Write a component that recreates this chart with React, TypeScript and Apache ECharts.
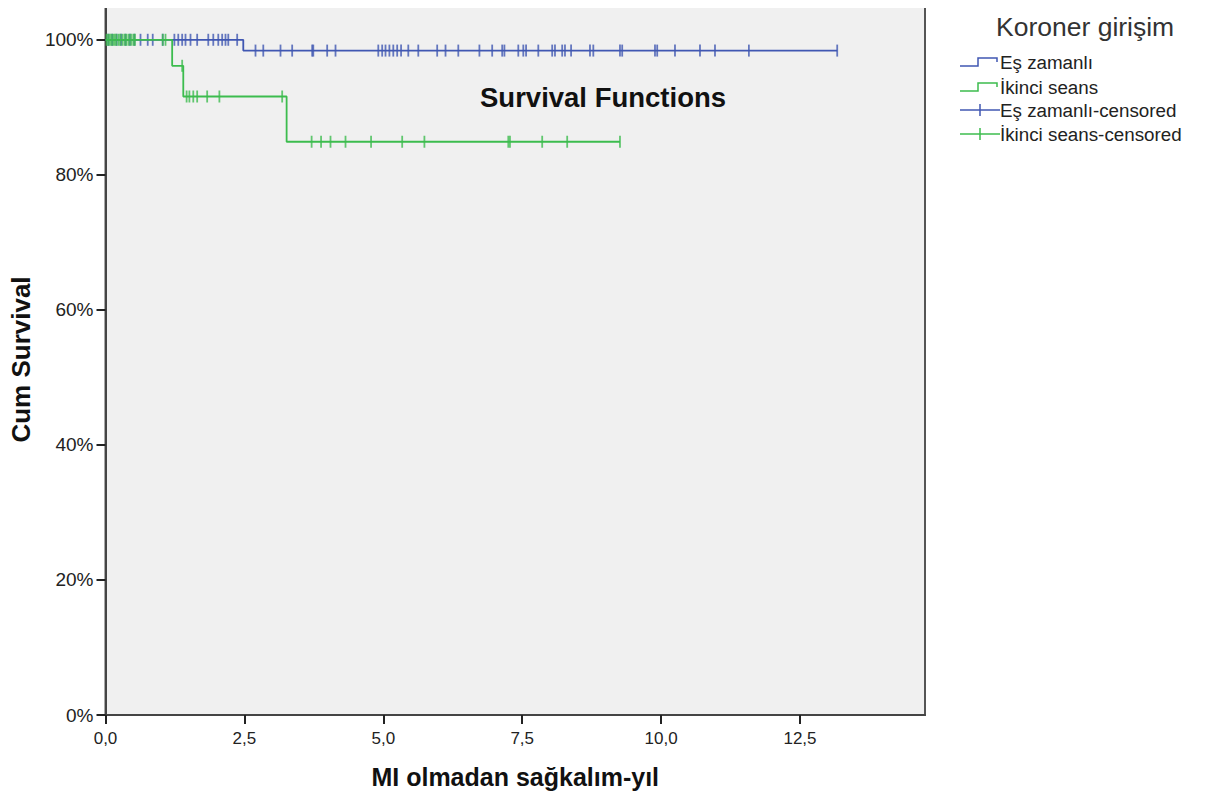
import React, { useEffect, useRef } from "react";
import * as echarts from "echarts";

// Kaplan-Meier step points [years, cum survival %]
const esZamanliSteps: [number, number][] = [
  [0, 100],
  [2.48, 98.4],
  [13.17, 98.4],
];
const ikinciSeansSteps: [number, number][] = [
  [0, 100],
  [1.2, 96.15],
  [1.4, 91.6],
  [3.26, 84.9],
  [9.26, 84.9],
];

// censored times
const esZamanliCensor100 = [
  0.05, 0.12, 0.2, 0.28, 0.36, 0.44, 0.52, 0.63, 0.76, 0.85, 1.03, 1.24, 1.31,
  1.38, 1.44, 1.53, 1.65, 1.85, 1.94, 2.03, 2.1, 2.16, 2.21, 2.37,
];
const esZamanliCensorLow = [
  2.7, 2.84, 3.15, 3.36, 3.72, 3.74, 3.99, 4.14, 4.91, 4.98, 5.04, 5.11, 5.18,
  5.25, 5.32, 5.45, 5.63, 5.97, 6.12, 6.35, 6.73, 6.96, 7.14, 7.18, 7.43, 7.52,
  7.57, 7.79, 8.04, 8.09, 8.22, 8.27, 8.38, 8.72, 8.78, 9.26, 9.3, 9.89, 9.93,
  10.25, 10.7, 10.97, 11.58, 13.17,
];
const ikinciCensor100 = [
  0.02, 0.05, 0.08, 0.11, 0.14, 0.17, 0.2, 0.24, 0.27, 0.31, 0.35, 0.38, 0.42,
  0.46, 0.5, 0.53, 1.03, 1.08,
];
const ikinciCensor96 = [1.38];
const ikinciCensor91 = [1.46, 1.51, 1.58, 1.65, 1.83, 2.05, 3.18];
const ikinciCensor85 = [
  3.71, 3.88, 4.05, 4.32, 4.78, 5.34, 5.74, 7.25, 7.28, 7.86, 8.31, 9.26,
];

const xTicks = [0, 2.5, 5, 7.5, 10, 12.5];
const yTicks = [0, 20, 40, 60, 80, 100];

const legendTitle = "Koroner girişim";
const legendItems = [
  "Eş zamanlı",
  "İkinci seans",
  "Eş zamanlı-censored",
  "İkinci seans-censored",
];

const BLUE = "#4057b2";
const GREEN = "#3cbc4e";
const FONT = "'Liberation Sans', Arial, sans-serif";

export default function App() {
  const ref = useRef<HTMLDivElement>(null);
  useEffect(() => {
    if (!ref.current) return;
    const chart = echarts.init(ref.current, null, { renderer: "svg" });

    const pts = (xs: number[], y: number) => xs.map((x) => [x, y]);
    const censorBlue = [
      ...pts(esZamanliCensor100, 100),
      ...pts(esZamanliCensorLow, esZamanliSteps[1][1]),
    ];
    const censorGreen = [
      ...pts(ikinciCensor100, 100),
      ...pts(ikinciCensor96, ikinciSeansSteps[1][1]),
      ...pts(ikinciCensor91, ikinciSeansSteps[2][1]),
      ...pts(ikinciCensor85, ikinciSeansSteps[3][1]),
    ];

    const lx = 960;
    const rows = [62, 87, 110, 134];
    const legendGraphics: any[] = [
      {
        type: "text",
        x: 996,
        y: 27,
        style: {
          text: legendTitle,
          font: `26.5px ${FONT}`,
          fill: "#333",
          verticalAlign: "middle",
        },
      },
    ];
    const colors = [BLUE, GREEN, BLUE, GREEN];
    rows.forEach((y, i) => {
      if (i < 2) {
        legendGraphics.push({
          type: "polyline",
          shape: {
            points: [
              [lx, y + 4],
              [lx + 18, y + 4],
              [lx + 18, y - 4],
              [lx + 37, y - 4],
              [lx + 37, y],
            ],
          },
          style: { stroke: colors[i], lineWidth: 1.5, fill: "none" },
        });
      } else {
        legendGraphics.push({
          type: "line",
          shape: { x1: lx, y1: y, x2: lx + 40, y2: y },
          style: { stroke: colors[i], lineWidth: 1.5 },
        });
        legendGraphics.push({
          type: "line",
          shape: { x1: lx + 20, y1: y - 6, x2: lx + 20, y2: y + 6 },
          style: { stroke: colors[i], lineWidth: 1.5 },
        });
      }
      legendGraphics.push({
        type: "text",
        x: 1000,
        y: y,
        style: {
          text: legendItems[i],
          font: `18.8px ${FONT}`,
          fill: "#222",
          verticalAlign: "middle",
        },
      });
    });

    chart.setOption({
      animation: false,
      backgroundColor: "#fff",
      grid: {
        left: 105,
        right: 283,
        top: 4,
        bottom: 88,
        show: true,
        backgroundColor: "#f0f0f0",
        borderColor: "#555",
        borderWidth: 2,
      },
      xAxis: {
        type: "value",
        min: 0,
        max: 14.75,
        interval: 2.5,
        name: "MI olmadan sağkalım-yıl",
        nameLocation: "middle",
        nameGap: 49,
        nameTextStyle: {
          fontFamily: FONT,
          fontSize: 25,
          fontWeight: "bold",
          color: "#111",
        },
        splitLine: { show: false },
        axisLine: { show: true, lineStyle: { color: "#444", width: 2 } },
        axisTick: {
          show: true,
          length: 9,
          lineStyle: { color: "#222", width: 2 },
        },
        axisLabel: {
          showMaxLabel: false,
          formatter: (v: number) =>
            xTicks.includes(v) ? v.toFixed(1).replace(".", ",") : "",
          fontFamily: FONT,
          fontSize: 17,
          color: "#222",
          margin: 15,
        },
      },
      yAxis: {
        type: "value",
        min: 0,
        max: 105.3,
        name: "Cum Survival",
        nameLocation: "middle",
        nameGap: 70,
        nameTextStyle: {
          fontFamily: FONT,
          fontSize: 26,
          fontWeight: "bold",
          color: "#111",
        },
        splitLine: { show: false },
        axisLine: { show: true, lineStyle: { color: "#444", width: 2 } },
        axisTick: {
          show: true,
          length: 9,
          lineStyle: { color: "#222", width: 2 },
          customValues: yTicks,
        },
        axisLabel: {
          customValues: yTicks,
          formatter: (v: number) => `${v}%`,
          fontFamily: FONT,
          fontSize: 19,
          color: "#222",
          margin: 12,
        },
      },
      graphic: [
        {
          type: "text",
          x: 480,
          y: 97,
          style: {
            text: "Survival Functions",
            font: `bold 27.5px ${FONT}`,
            fill: "#111",
            verticalAlign: "middle",
          },
        },
        ...legendGraphics,
      ],
      series: [
        {
          type: "line",
          step: "end",
          data: esZamanliSteps,
          symbol: "none",
          lineStyle: { color: BLUE, width: 1.8 },
          z: 2,
        },
        {
          type: "scatter",
          data: censorBlue,
          symbol: "rect",
          symbolSize: [1.8, 12],
          itemStyle: { color: BLUE },
          z: 3,
        },
        {
          type: "line",
          step: "end",
          data: ikinciSeansSteps,
          symbol: "none",
          lineStyle: { color: GREEN, width: 1.8 },
          z: 4,
        },
        {
          type: "scatter",
          data: censorGreen,
          symbol: "rect",
          symbolSize: [1.8, 12],
          itemStyle: { color: GREEN },
          z: 5,
        },
      ],
    });
    return () => chart.dispose();
  }, []);
  return <div ref={ref} style={{ width: 1208, height: 803, margin: -8 }} />;
}
